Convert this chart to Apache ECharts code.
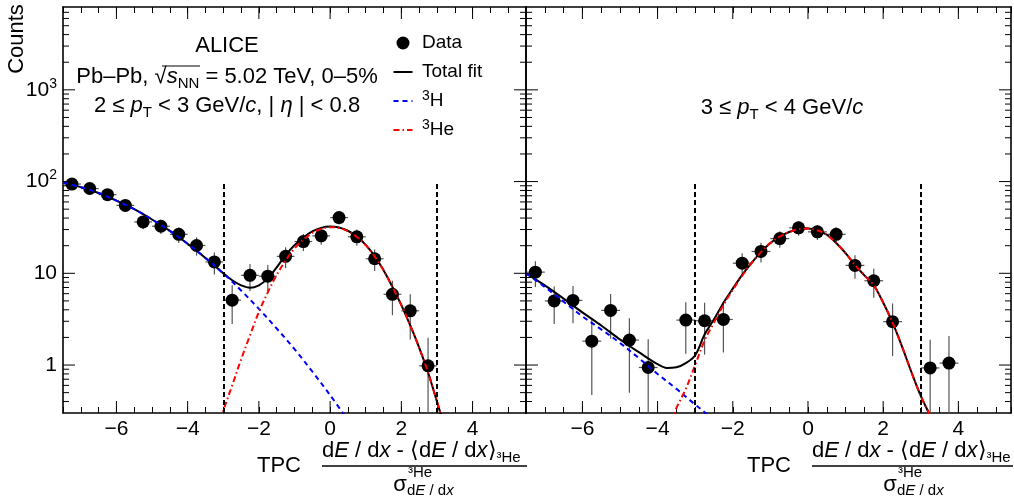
<!DOCTYPE html>
<html>
<head>
<meta charset="utf-8">
<script src="https://cdn.jsdelivr.net/npm/echarts@6/dist/echarts.min.js"></script>
<style>
  html, body { margin: 0; padding: 0; background: #fff; }
  #chart { width: 1014px; height: 500px; }
</style>
</head>
<body>
<div id="chart"></div>
<script>
const FONT = 'Liberation Sans, Arial, Helvetica, sans-serif'

// axis ranges, ticks (right pad is cut a little short on the right)
const X_RANGES = [[-7.5, 5.5], [-7.5, 5.4]]
const Y_RANGE = [0.3, 8000]
const X_MAJOR = [-6, -4, -2, 0, 2, 4]
const Y_MAJOR = [1, 10, 100, 1000]
const Y_MINOR = [0.4, 0.5, 0.6, 0.7, 0.8, 0.9, 2, 3, 4, 5, 6, 7, 8, 9,
  20, 30, 40, 50, 60, 70, 80, 90, 200, 300, 400, 500, 600, 700, 800, 900,
  2000, 3000, 4000, 5000, 6000, 7000]
const BIN_HALF = 0.25
const CUT_X = [-3, 3]   // selection window
const CUT_TOP = 100

// 2 <= pT < 3 GeV/c (left panel)
const xLeft = [-7.25, -6.75, -6.25, -5.75, -5.25, -4.75, -4.25, -3.75, -3.25, -2.75, -2.25,
  -1.75, -1.25, -0.75, -0.25, 0.25, 0.75, 1.25, 1.75, 2.25, 2.75]
const yLeft = [94, 84, 72, 55, 36.3, 32.6, 26.6, 20.1, 13.3, 5.1, 9.5,
  9.3, 15.3, 22.2, 25.6, 40.5, 25, 14.4, 5.9, 3.9, 0.98]
const errLeft = [9.7, 9.2, 8.5, 7.4, 6.0, 5.7, 5.2, 4.5, 3.6, 2.3, 3.1,
  3.0, 3.9, 4.7, 5.1, 6.4, 5.0, 3.8, 2.4, 2.0, 1.0]

const fitXLeft = [-7.5, -7, -6.5, -6, -5.5, -5, -4.5, -4, -3.5, -3.25, -3, -2.75, -2.5, -2.25, -2,
  -1.75, -1.5, -1.25, -1, -0.75, -0.5, -0.25, 0, 0.25, 0.5, 0.75, 1, 1.25, 1.5, 1.75, 2, 2.25,
  2.5, 2.75, 3, 3.2]
const fitYLeft = [98, 87, 75, 62, 50, 38.6, 29, 21, 14.7, 12.2, 10.0, 8.4, 7.4, 6.95, 7.4,
  8.8, 11.6, 15.8, 20.2, 24.6, 28.6, 31.3, 32.3, 31.6, 29.1, 25.2, 20.4, 15.4, 10.8, 7.1, 4.5, 2.7,
  1.55, 0.83, 0.4, 0.22]
const h3XLeft = [-7.5, -7, -6.5, -6, -5.5, -5, -4.5, -4, -3.5, -3, -2.5, -2, -1.5, -1, -0.5, 0, 0.5]
const h3YLeft = [98, 87, 75, 62, 50, 38.6, 29, 21, 14.7, 10.0, 6.5, 4.1, 2.5, 1.49, 0.85, 0.47, 0.25]
const he3XLeft = [-3.1, -3, -2.75, -2.5, -2.25, -2, -1.75, -1.5, -1.25, -1, -0.75, -0.5, -0.25, 0,
  0.25, 0.5, 0.75, 1, 1.25, 1.5, 1.75, 2, 2.25, 2.5, 2.75, 3, 3.2]
const he3YLeft = [0.25, 0.32, 0.6, 1.15, 2.1, 3.8, 6.2, 9.6, 13.8, 18.6, 23.3, 27.5, 30.5, 31.8,
  31.2, 28.8, 25, 20.3, 15.3, 10.8, 7.1, 4.5, 2.7, 1.55, 0.83, 0.4, 0.22]

// 3 <= pT < 4 GeV/c (right panel)
const xRight = [-7.25, -6.75, -6.25, -5.75, -5.25, -4.75, -4.25, -3.25, -2.75, -2.25, -1.75,
  -1.25, -0.75, -0.25, 0.25, 0.75, 1.25, 1.75, 2.25, 3.25, 3.75]
const yRight = [10.3, 5.0, 5.06, 1.82, 3.94, 1.87, 0.94, 3.09, 3.04, 3.14, 12.9,
  17.3, 23.9, 31.3, 28.3, 26.6, 12.2, 8.3, 2.97, 0.93, 1.05]
const errRight = [3.2, 2.2, 2.2, 1.35, 2.0, 1.37, 0.97, 1.76, 1.74, 1.77, 3.6,
  4.2, 4.9, 5.6, 5.3, 5.2, 3.5, 2.9, 1.72, 0.96, 1.02]

const fitXRight = [-7.5, -7, -6.5, -6, -5.5, -5, -4.5, -4, -3.75, -3.5, -3.25, -3, -2.75, -2.5,
  -2.25, -2, -1.75, -1.5, -1.25, -1, -0.75, -0.5, -0.25, 0, 0.25, 0.5, 0.75, 1, 1.25, 1.5, 1.75,
  2, 2.25, 2.5, 2.75, 3, 3.25, 3.4]
const fitYRight = [10, 7.4, 5.3, 3.75, 2.7, 1.9, 1.38, 1.02, 0.93, 0.945, 1.05, 1.28, 2.15, 3.15,
  4.75, 6.8, 9.6, 13.0, 17, 21.4, 25.1, 28.2, 30.3, 30.7, 29.5, 26.3, 21.4, 16.6, 12.3, 9.5, 7.4,
  4.8, 2.9, 1.6, 0.84, 0.46, 0.28, 0.2]
const h3XRight = [-7.5, -7, -6.5, -6, -5.5, -5, -4.5, -4, -3.5, -3, -2.75, -2.5]
const h3YRight = [10, 7.1, 4.9, 3.4, 2.45, 1.74, 1.19, 0.8, 0.55, 0.37, 0.305, 0.24]
const he3XRight = [-3.65, -3.5, -3.25, -3, -2.75, -2.5, -2.25, -2, -1.75, -1.5, -1.25, -1, -0.75,
  -0.5, -0.25, 0, 0.25, 0.5, 0.75, 1, 1.25, 1.5, 1.75, 2, 2.25, 2.5, 2.75, 3, 3.25, 3.4]
const he3YRight = [0.24, 0.34, 0.55, 1.0, 1.85, 2.9, 4.5, 6.6, 9.4, 12.9, 17, 21.4, 25.1,
  28.2, 30.3, 30.7, 29.5, 26.3, 21.4, 16.6, 12.3, 9.5, 7.4, 4.8, 2.9, 1.6, 0.84, 0.46, 0.28, 0.2]

const panels = [
  { x: xLeft, y: yLeft, err: errLeft, fit: [fitXLeft, fitYLeft], h3: [h3XLeft, h3YLeft], he3: [he3XLeft, he3YLeft] },
  { x: xRight, y: yRight, err: errRight, fit: [fitXRight, fitYRight], h3: [h3XRight, h3YRight], he3: [he3XRight, he3YRight] }
]

const zip = (xs, ys) => xs.map((x, i) => [x, ys[i]])

function xLabel(v) {
  if (Math.abs(v % 2) > 1e-9 || v < -6.01 || v > 4.01) return ''
  return v < 0 ? '\u2212' + (-v) : String(v)
}
function yLabel(v) {
  const l = Math.log10(v), e = Math.round(l)
  if (Math.abs(l - e) > 1e-6) return ''
  if (e === 0) return '1'
  if (e === 1) return '10'
  return '10{sup|' + e + '}'
}

// ROOT-like inward ticks on all four sides: [x, y, length, kind, xMax]
function tickData(range) {
  const out = []
  Y_MAJOR.forEach(v => out.push([range[0], v, 12, 0, range[1]]))
  Y_MINOR.forEach(v => out.push([range[0], v, 6, 0, range[1]]))
  X_MAJOR.forEach(v => out.push([v, Y_RANGE[0], 12, 1, range[1]]))
  return out
}

function renderTick(params, api) {
  const len = api.value(2)
  const st = { stroke: '#000', lineWidth: 1 }
  if (api.value(3) === 0) {
    const v = api.value(1)
    const a = api.coord([api.value(0), v]), b = api.coord([api.value(4), v])
    return { type: 'group', children: [
      { type: 'line', shape: { x1: a[0], y1: a[1], x2: a[0] + len, y2: a[1] }, style: st },
      { type: 'line', shape: { x1: b[0] - len, y1: b[1], x2: b[0], y2: b[1] }, style: st }
    ] }
  }
  const v = api.value(0)
  const a = api.coord([v, Y_RANGE[0]]), b = api.coord([v, Y_RANGE[1]])
  return { type: 'group', children: [
    { type: 'line', shape: { x1: a[0], y1: a[1] - len, x2: a[0], y2: a[1] }, style: st },
    { type: 'line', shape: { x1: b[0], y1: b[1], x2: b[0], y2: b[1] + len }, style: st }
  ] }
}

function renderErr(params, api) {
  const x = api.value(0), y = api.value(1), e = api.value(2)
  const lowVal = y - e > Y_RANGE[0] * 0.2 ? y - e : Y_RANGE[0] * 0.2
  const top = api.coord([x, y + e]), bot = api.coord([x, lowVal])
  const l = api.coord([x - BIN_HALF, y]), r = api.coord([x + BIN_HALF, y])
  const st = { stroke: '#555', lineWidth: 1.2 }
  return { type: 'group', children: [
    { type: 'line', shape: { x1: top[0], y1: top[1], x2: bot[0], y2: bot[1] }, style: st },
    { type: 'line', shape: { x1: l[0], y1: l[1], x2: r[0], y2: r[1] }, style: st }
  ] }
}

const grids = [
  { left: 63, top: 7, width: 463, height: 406 },
  { left: 526, top: 7, width: 486, height: 406 }
]

const xAxes = [], yAxes = [], series = []
grids.forEach((g, p) => {
  const range = X_RANGES[p]
  ;['bottom', 'top'].forEach(pos => {
    xAxes.push({
      type: 'value', gridIndex: p, position: pos, min: range[0], max: range[1], interval: 0.5,
      axisLine: { show: true, onZero: false, lineStyle: { color: '#000', width: 1.6 } },
      axisTick: { show: true, inside: true, length: 6, lineStyle: { color: '#000', width: 1 } },
      axisLabel: { show: pos === 'bottom', formatter: xLabel, color: '#000', fontSize: 21,
        fontFamily: FONT, margin: 6 },
      splitLine: { show: false }
    })
  })
  ;['left', 'right'].forEach(pos => {
    yAxes.push({
      type: 'log', logBase: 10, gridIndex: p, position: pos, min: Y_RANGE[0], max: Y_RANGE[1],
      axisLine: { show: true, onZero: false, lineStyle: { color: '#000', width: 1.6 } },
      axisTick: { show: false },
      minorTick: { show: false },
      axisLabel: {
        show: p === 0 && pos === 'left', formatter: yLabel, color: '#000', fontSize: 21,
        fontFamily: FONT, margin: 6, lineHeight: 26,
        rich: { sup: { fontSize: 14, fontFamily: FONT, color: '#000', verticalAlign: 'top', lineHeight: 14 } }
      },
      splitLine: { show: false }
    })
  })
  const xi = p * 2, yi = p * 2
  const d = panels[p]
  series.push({
    type: 'custom', xAxisIndex: xi, yAxisIndex: yi, silent: true, clip: false, z: 5,
    renderItem: renderTick, data: tickData(range)
  })
  series.push({
    type: 'custom', xAxisIndex: xi, yAxisIndex: yi, silent: true, clip: true, z: 2,
    renderItem: renderErr, data: d.x.map((x, i) => [x, d.y[i], d.err[i]])
  })
  series.push({
    name: 'Data', type: 'scatter', xAxisIndex: xi, yAxisIndex: yi, symbol: 'circle', symbolSize: 13,
    itemStyle: { color: '#000', opacity: 1 }, z: 3, data: zip(d.x, d.y),
    markLine: {
      silent: true, symbol: ['none', 'none'], label: { show: false },
      lineStyle: { color: '#000', width: 2, type: [5, 3] },
      data: CUT_X.map(c => [{ coord: [c, Y_RANGE[0]] }, { coord: [c, CUT_TOP] }])
    }
  })
  series.push({
    name: 'Total fit', type: 'line', xAxisIndex: xi, yAxisIndex: yi, symbol: 'none', smooth: 0.35,
    lineStyle: { color: '#000', width: 2 }, itemStyle: { color: '#000' }, z: 4,
    data: zip(d.fit[0], d.fit[1])
  })
  series.push({
    name: '³H', type: 'line', xAxisIndex: xi, yAxisIndex: yi, symbol: 'none', smooth: 0.35,
    lineStyle: { color: '#0000ff', width: 2, type: [5, 4] }, itemStyle: { color: '#0000ff' }, z: 4,
    data: zip(d.h3[0], d.h3[1])
  })
  series.push({
    name: '³He', type: 'line', xAxisIndex: xi, yAxisIndex: yi, symbol: 'none', smooth: 0.35,
    lineStyle: { color: '#ff0000', width: 2, type: [6, 3, 1.5, 3] }, itemStyle: { color: '#ff0000' }, z: 4,
    data: zip(d.he3[0], d.he3[1])
  })
})

const txt = { fontFamily: FONT, fill: '#000' }
const richBase = {
  it: { fontFamily: FONT, fontStyle: 'italic', fontSize: 22, lineHeight: 28, color: '#000' },
  sub: { fontFamily: FONT, fontSize: 15, lineHeight: 15, verticalAlign: 'bottom', color: '#000' },
  sup: { fontFamily: FONT, fontSize: 14, lineHeight: 14, verticalAlign: 'top', color: '#000' }
}
const numRich = {
  it: { fontFamily: FONT, fontStyle: 'italic', fontSize: 22, lineHeight: 28, color: '#000' },
  sub: { fontFamily: FONT, fontSize: 15, lineHeight: 15, verticalAlign: 'bottom', color: '#000' }
}
const smallRich = {
  it: { fontFamily: FONT, fontStyle: 'italic', fontSize: 15, color: '#000' }
}

function xTitle(dx) {
  return [
    { type: 'text', x: 279 + dx, y: 466, style: Object.assign({ text: 'TPC', fontSize: 22, align: 'center', verticalAlign: 'middle' }, txt) },
    { type: 'text', x: 322 + dx, y: 451, style: Object.assign({
      text: 'd{it|E} / d{it|x} - \u27e8d{it|E} / d{it|x}\u27e9{sub|³He}', fontSize: 22, lineHeight: 28,
      align: 'left', verticalAlign: 'middle', rich: numRich }, txt) },
    { type: 'line', shape: { x1: 322 + dx, y1: 466, x2: Math.min(527 + dx, 1013), y2: 466 }, style: { stroke: '#000', lineWidth: 1.3 } },
    { type: 'text', x: 400 + dx, y: 485, style: Object.assign({ text: 'σ', fontSize: 22, align: 'center', verticalAlign: 'middle' }, txt) },
    { type: 'text', x: 408 + dx, y: 473, style: Object.assign({ text: '³He', fontSize: 15, align: 'left', verticalAlign: 'middle' }, txt) },
    { type: 'text', x: 407 + dx, y: 491, style: Object.assign({ text: 'd{it|E} / d{it|x}', fontSize: 15, align: 'left', verticalAlign: 'middle', rich: smallRich }, txt) }
  ]
}

// legend drawn by hand so the line icons keep their dash patterns
const LEGEND_X = 403, LEGEND_TEXT_X = 422
const legendRows = [
  { label: 'Data', y: 43 },
  { label: 'Total fit', y: 72, color: '#000', dash: null },
  { label: '{sup|3}H', y: 101, color: '#0000ff', dash: [5, 4] },
  { label: '{sup|3}He', y: 130, color: '#ff0000', dash: [6, 3, 1.5, 3] }
]
const legendGraphic = []
legendRows.forEach(r => {
  if (r.color) {
    legendGraphic.push({ type: 'line', shape: { x1: LEGEND_X - 9.5, y1: r.y, x2: LEGEND_X + 9.5, y2: r.y },
      style: { stroke: r.color, lineWidth: 2, lineDash: r.dash } })
  } else {
    legendGraphic.push({ type: 'circle', shape: { cx: LEGEND_X, cy: r.y, r: 6.5 }, style: { fill: '#000' } })
  }
  legendGraphic.push({ type: 'text', x: LEGEND_TEXT_X, y: r.y, style: Object.assign({
    text: r.label, fontSize: 19, lineHeight: 24, align: 'left', verticalAlign: 'middle', rich: richBase }, txt) })
})

const graphic = [
  { type: 'text', x: 17, y: 39, rotation: Math.PI / 2, style: Object.assign({ text: 'Counts', fontSize: 22, align: 'center', verticalAlign: 'middle' }, txt) },
  { type: 'text', x: 227, y: 46, style: Object.assign({ text: 'ALICE', fontSize: 22, align: 'center', verticalAlign: 'middle' }, txt) },
  { type: 'text', x: 227, y: 77, style: Object.assign({
    text: 'Pb–Pb, √{it|s}{sub|NN} = 5.02 TeV, 0–5%', fontSize: 22, lineHeight: 28,
    align: 'center', verticalAlign: 'middle', rich: richBase }, txt) },
  { type: 'line', shape: { x1: 162, y1: 66, x2: 200, y2: 66 }, style: { stroke: '#000', lineWidth: 1 } },
  { type: 'text', x: 227, y: 106, style: Object.assign({
    text: '2 ≤ {it|p}{sub|T} < 3 GeV/{it|c}, | {it|η} | < 0.8', fontSize: 22, lineHeight: 28,
    align: 'center', verticalAlign: 'middle', rich: richBase }, txt) },
  { type: 'text', x: 782, y: 108, style: Object.assign({
    text: '3 ≤ {it|p}{sub|T} < 4 GeV/{it|c}', fontSize: 22, lineHeight: 28,
    align: 'center', verticalAlign: 'middle', rich: richBase }, txt) }
].concat(legendGraphic, xTitle(0), xTitle(490))

const chart = echarts.init(document.getElementById('chart'), null, { renderer: 'canvas' })
chart.setOption({
  animation: false,
  backgroundColor: '#fff',
  grid: grids,
  xAxis: xAxes,
  yAxis: yAxes,
  graphic: graphic,
  series: series
})
</script>
</body>
</html>
